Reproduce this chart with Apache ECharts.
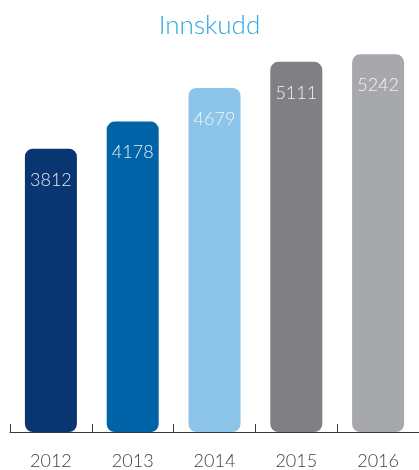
<!DOCTYPE html>
<html>
<head>
<meta charset="utf-8">
<script src="https://cdn.jsdelivr.net/npm/echarts@6/dist/echarts.min.js"></script>
<style>
html,body{margin:0;padding:0;background:#fff;}
#chart{width:419px;height:470px;}
</style>
</head>
<body>
<div id="chart"></div>
<script>
const titleText = 'Innskudd';
const categories = ['2012', '2013', '2014', '2015', '2016'];
const values = [3812, 4178, 4679, 5111, 5242];
const barColors = ['#0a3573', '#0063a8', '#8dc4e9', '#808084', '#a7a8ab'];

const chart = echarts.init(document.getElementById('chart'), null, {renderer: 'canvas'});
chart.setOption({
  animation: false,
  title: {
    text: titleText,
    left: 'center',
    top: 8,
    textStyle: {color: '#2aa8e0', fontSize: 26, fontWeight: 300, fontFamily: 'Lato'}
  },
  grid: {left: 10, right: -4.75, top: 40.1, bottom: 35, containLabel: false},
  xAxis: {
    type: 'category',
    data: categories,
    axisLine: {show: true, lineStyle: {color: '#3a3a3a', width: 1}},
    axisTick: {show: true, inside: true, length: 8, alignWithLabel: false, lineStyle: {color: '#3a3a3a'}},
    axisLabel: {color: '#3d3d3d', fontSize: 18, fontWeight: 300, fontFamily: 'Lato', margin: 20}
  },
  yAxis: {
    type: 'log',
    min: 1465,
    max: 5500,
    show: false,
    splitLine: {show: false}
  },
  series: [{
    type: 'bar',
    barWidth: 52,
    data: values.map((v, i) => ({value: v, itemStyle: {color: barColors[i]}})),
    itemStyle: {borderRadius: 8},
    label: {
      show: true,
      position: 'insideTop',
      distance: 22,
      color: 'rgba(255,255,255,0.88)',
      fontSize: 18,
      fontWeight: 300,
      fontFamily: 'Lato'
    }
  }]
});
</script>
</body>
</html>
